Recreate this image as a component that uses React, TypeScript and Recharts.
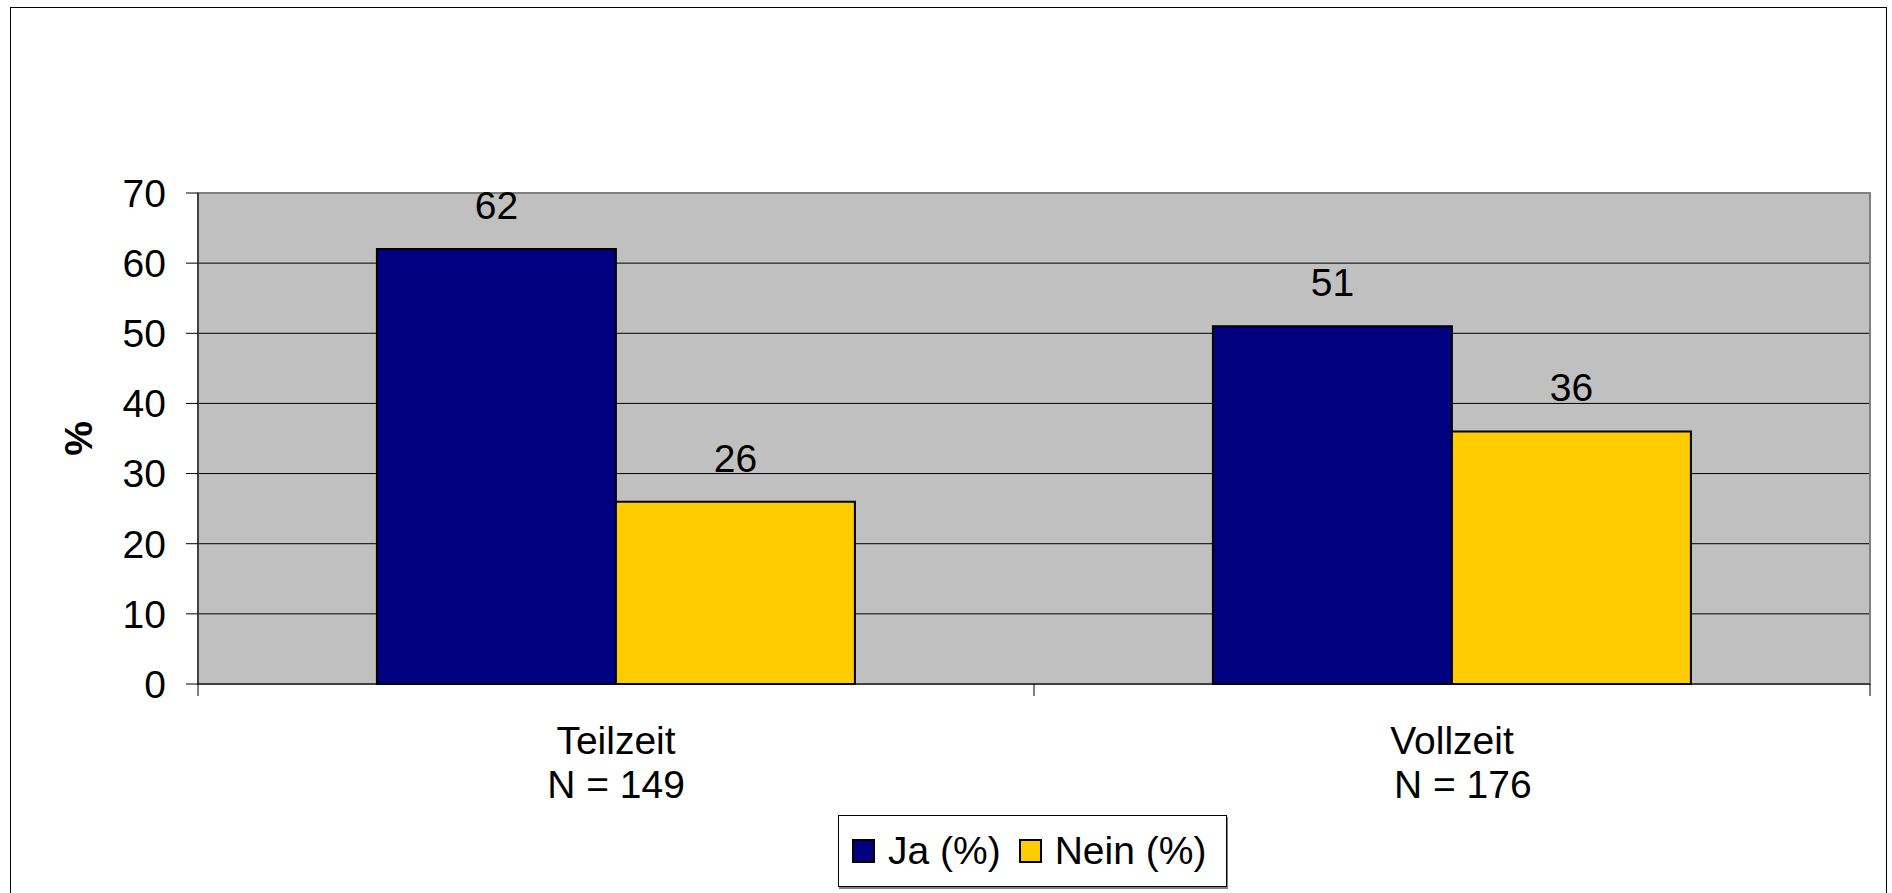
import { BarChart, Bar, XAxis, YAxis, CartesianGrid, LabelList, ReferenceArea } from 'recharts';

const categories = ['Teilzeit', 'Vollzeit'];
const sampleSizes = ['N = 149', '  N = 176'];
const jaValues = [62, 51];
const neinValues = [26, 36];
const yTicks = [0, 10, 20, 30, 40, 50, 60, 70];

const series = [
  { key: 'ja', name: 'Ja (%)', color: '#000080' },
  { key: 'nein', name: 'Nein (%)', color: '#FFCC00' },
];

const data = categories.map((name, i) => ({
  name,
  n: sampleSizes[i],
  ja: jaValues[i],
  nein: neinValues[i],
}));

const W = 1892;
const H = 893;
const Y_AXIS_W = 100;
const X_AXIS_H = 100;
const margin = { top: 193, right: 22, bottom: 109, left: 98 };
const plotWidth = W - margin.left - margin.right - Y_AXIS_W;
const band = plotWidth / categories.length;
const FONT = '"Liberation Sans", Arial, Helvetica, sans-serif';
const FONT_SIZE = 39;

// category name + sample size on two lines, tick marks sit between the categories
function CategoryTick(props: any) {
  const { x, y, payload, index } = props;
  const half = band / 2;
  return (
    <g>
      {index === 0 && <line x1={x - half} y1={y} x2={x - half} y2={y + 12} stroke="#000" />}
      <line x1={x + half} y1={y} x2={x + half} y2={y + 12} stroke="#000" />
      <text
        x={x}
        y={y + 70}
        textAnchor="middle"
        fontSize={FONT_SIZE}
        fontFamily={FONT}
        fill="#000"
        style={{ whiteSpace: 'pre' }}
      >
        <tspan x={x}>{payload.value}</tspan>
        <tspan x={x} dy={44}>
          {sampleSizes[index]}
        </tspan>
      </text>
    </g>
  );
}

export default function App() {
  return (
    <div
      style={{
        position: 'absolute',
        left: 0,
        top: 0,
        width: W,
        height: H,
        overflow: 'hidden',
        background: '#fff',
        fontFamily: FONT,
      }}
    >
      <div
        style={{
          position: 'absolute',
          left: 10,
          top: 7,
          width: 1877,
          height: 1000,
          border: '1px solid #000',
          boxSizing: 'border-box',
        }}
      />
      <div style={{ position: 'absolute', left: 0, top: 0 }}>
        <BarChart
          width={W}
          height={H}
          data={data}
          margin={margin}
          barCategoryGap="21.4%"
          barGap={0}
        >
          <CartesianGrid vertical={false} stroke="#000" fill="#C0C0C0" fillOpacity={1} />
          <XAxis
            dataKey="name"
            height={X_AXIS_H}
            tickLine={false}
            tickSize={0}
            tickMargin={0}
            axisLine={{ stroke: '#000' }}
            tick={<CategoryTick />}
            interval={0}
          />
          <YAxis
            width={Y_AXIS_W}
            domain={[0, 70]}
            ticks={yTicks}
            interval={0}
            tickSize={12}
            tickMargin={20}
            axisLine={{ stroke: '#000' }}
            tickLine={{ stroke: '#000' }}
            tick={{ fill: '#000', fontSize: FONT_SIZE, fontFamily: FONT }}
            label={{
              content: ({ viewBox }: any) => {
                const cx = viewBox.x - 20;
                const cy = viewBox.y + viewBox.height / 2;
                return (
                  <text
                    x={cx}
                    y={cy}
                    transform={`rotate(-90 ${cx} ${cy})`}
                    textAnchor="middle"
                    dominantBaseline="central"
                    fontSize={FONT_SIZE}
                    fontWeight="bold"
                    fontFamily={FONT}
                    fill="#000"
                  >
                    %
                  </text>
                );
              },
            }}
          />
          <ReferenceArea y1={0} y2={70} fill="none" stroke="#808080" strokeWidth={2} />
          {series.map((s) => (
            <Bar
              key={s.key}
              dataKey={s.key}
              name={s.name}
              fill={s.color}
              stroke="#000"
              strokeWidth={2}
              isAnimationActive={false}
            >
              <LabelList
                dataKey={s.key}
                position="top"
                offset={30}
                fill="#000"
                fontSize={FONT_SIZE}
                fontFamily={FONT}
              />
            </Bar>
          ))}
        </BarChart>
      </div>
      <div
        style={{
          position: 'absolute',
          left: 838,
          top: 815,
          width: 389,
          height: 72,
          border: '1px solid #000',
          boxShadow: '1px 2px 0 #808080',
          boxSizing: 'border-box',
          background: '#fff',
          display: 'flex',
          alignItems: 'center',
          paddingLeft: 13,
          fontSize: FONT_SIZE,
          color: '#000',
        }}
      >
        {series.map((s, i) => (
          <div key={s.key} style={{ display: 'flex', alignItems: 'center', marginLeft: i === 0 ? 0 : 18 }}>
            <span
              style={{
                display: 'inline-block',
                width: 23,
                height: 24,
                background: s.color,
                border: '2px solid #000',
                boxSizing: 'border-box',
                marginRight: 13,
              }}
            />
            <span>{s.name}</span>
          </div>
        ))}
      </div>
    </div>
  );
}
